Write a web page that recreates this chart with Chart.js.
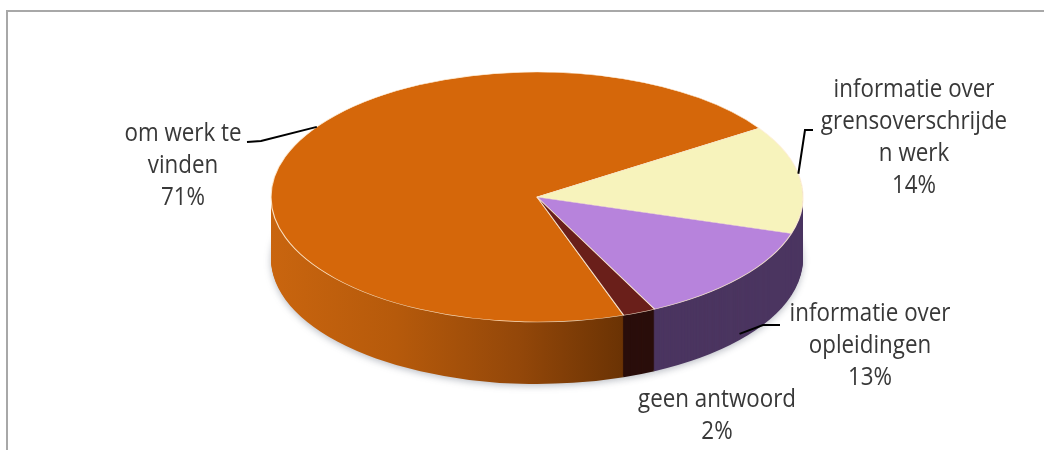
<!DOCTYPE html>
<html>
<head>
<meta charset="utf-8">
<script src="https://cdn.jsdelivr.net/npm/chart.js@4.4.0/dist/chart.umd.min.js"></script>
<style>
  html, body { margin: 0; padding: 0; background: #fff; }
  #wrap { position: relative; width: 1044px; height: 450px; overflow: hidden; }
  #frame { position: absolute; left: 6px; top: 10px; width: 1100px; height: 500px;
           border-left: 2px solid #a8a8a8; border-top: 2px solid #a8a8a8; }
  #mycanvas { position: absolute; left: 0; top: 0; }
</style>
</head>
<body>
<div id="wrap">
  <div id="frame"></div>
  <canvas id="mycanvas" width="1044" height="450"></canvas>
</div>
<script>
// data
var categories = [['om werk te', 'vinden'], ['informatie over', 'grensoverschrijde', 'n werk'], ['informatie over', 'opleidingen'], ['geen antwoord']];
var values = [71, 14, 13, 2];
var percentLabels = ['71%', '14%', '13%', '2%'];

var topColors = ['#d5670a', '#f7f3bc', '#b783dc', '#6a1f1a'];
var sideColors = [null, '#4b3560', '#4b3560', '#2a0e0b'];

// draws the pie as a tilted disc with a side wall
var pie3d = {
	id: 'pie3d',
	beforeDatasetsDraw: function(chart, args, opts) {
		var arcs = chart.getDatasetMeta(0).data;
		var a0 = arcs[0];
		var c = chart.ctx;
		var cx = a0.x, cy = opts.centerY;
		var rx = opts.radiusX, ry = opts.radiusY;

		var grad = c.createLinearGradient(cx - rx, 0, cx + 90, 0);
		grad.addColorStop(0, '#c9650f');
		grad.addColorStop(0.35, '#b65a0b');
		grad.addColorStop(0.7, '#934709');
		grad.addColorStop(1, '#693204');

		for (var d = opts.depth; d >= 1; d--) {
			c.save();
			if (d == opts.depth) {
				c.shadowColor = 'rgba(60,70,90,0.35)';
				c.shadowBlur = 7;
				c.shadowOffsetY = 2;
			}
			arcs.forEach(function(arc, i) {
				c.beginPath();
				c.moveTo(cx, cy + d);
				c.ellipse(cx, cy + d, rx, ry, 0, arc.startAngle, arc.endAngle);
				c.closePath();
				c.fillStyle = sideColors[i] || grad;
				c.fill();
			});
			c.restore();
		}

		c.save();
		c.translate(cx, cy);
		c.scale(rx / a0.outerRadius, ry / a0.outerRadius);
		c.translate(-a0.x, -a0.y);
	},
	afterDatasetsDraw: function(chart) {
		chart.ctx.restore();
	}
};

// slice labels with leader lines
var sliceLabels = {
	id: 'sliceLabels',
	afterDraw: function(chart, args, opts) {
		var arcs = chart.getDatasetMeta(0).data;
		var p3 = chart.options.plugins.pie3d;
		var c = chart.ctx;
		c.save();
		c.fillStyle = opts.color;
		c.font = opts.font;
		c.textAlign = 'center';
		c.textBaseline = 'middle';
		opts.items.forEach(function(it, i) {
			var lines = [].concat(categories[i], [percentLabels[i]]);
			lines.forEach(function(t, k) {
				c.save();
				c.translate(it.x, it.y + k * opts.lineHeight);
				c.scale(opts.squeeze, 1);
				c.fillText(t, 0, 0);
				c.restore();
			});
			if (it.leader) {
				var arc = arcs[i];
				var ang = arc.startAngle + (arc.endAngle - arc.startAngle) * it.leader.frac;
				var ax = arc.x + p3.radiusX * Math.cos(ang);
				var ay = p3.centerY + p3.radiusY * Math.sin(ang) + p3.depth * (it.leader.down || 0);
				c.beginPath();
				c.strokeStyle = '#000';
				c.lineWidth = 2;
				c.moveTo(it.leader.pts[0][0], it.leader.pts[0][1]);
				for (var k = 1; k < it.leader.pts.length; k++) c.lineTo(it.leader.pts[k][0], it.leader.pts[k][1]);
				c.lineTo(ax, ay);
				c.stroke();
			}
		});
		c.restore();
	}
};

var ctx = document.getElementById('mycanvas');

var pieChart = new Chart(ctx, {
	type: 'pie',
	data: {
		labels: categories,
		datasets: [{
			data: values,
			backgroundColor: topColors,
			borderColor: 'rgba(255,238,215,0.9)',
			borderWidth: 1
		}]
	},
	options: {
		responsive: false,
		animation: false,
		events: [],
		rotation: 161,
		layout: { padding: { left: 30 } },
		plugins: {
			legend: { display: false },
			tooltip: { enabled: false },
			pie3d: { centerY: 197, radiusX: 266, radiusY: 125, depth: 62 },
			sliceLabels: {
				font: '26px "Open Sans", "Noto Sans", sans-serif',
				color: '#383838',
				squeeze: 0.86,
				lineHeight: 32,
				items: [
					{ x: 183, y: 134, leader: { frac: 0.56, pts: [[247, 142], [261, 141]] } },
					{ x: 914, y: 90, leader: { frac: 0.45, pts: [[813, 130], [805, 130]] } },
					{ x: 870, y: 314, leader: { frac: 0.5, down: 0.9, pts: [[780, 325], [763, 325]] } },
					{ x: 717, y: 400 }
				]
			}
		}
	},
	plugins: [pie3d, sliceLabels]
});
</script>
</body>
</html>
